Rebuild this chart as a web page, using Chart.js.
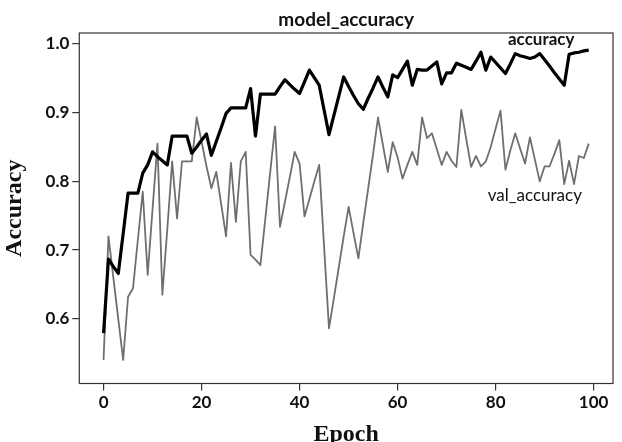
<!DOCTYPE html>
<html>
<head>
<meta charset="utf-8">
<script src="https://cdn.jsdelivr.net/npm/chart.js@4.4.0/dist/chart.umd.min.js"></script>
<style>
  html, body { margin: 0; padding: 0; background: #fff; }
</style>
</head>
<body>
<canvas id="chart" width="622" height="442"></canvas>
<script>
// training history (epochs 0..99)
const accuracy = [
  0.579, 0.687, 0.676, 0.666, 0.724, 0.783, 0.783, 0.783, 0.812, 0.824,
  0.843, 0.836, 0.830, 0.824, 0.866, 0.866, 0.866, 0.866, 0.841, 0.850,
  0.860, 0.869, 0.838, 0.858, 0.878, 0.899, 0.907, 0.907, 0.907, 0.907,
  0.935, 0.866, 0.927, 0.927, 0.927, 0.927, 0.938, 0.948, 0.941, 0.934,
  0.928, 0.945, 0.962, 0.951, 0.940, 0.904, 0.868, 0.896, 0.924, 0.952,
  0.938, 0.925, 0.913, 0.905, 0.921, 0.936, 0.952, 0.937, 0.923, 0.955,
  0.951, 0.963, 0.975, 0.940, 0.963, 0.962, 0.962, 0.968, 0.974, 0.942,
  0.958, 0.958, 0.972, 0.969, 0.966, 0.963, 0.975, 0.988, 0.962, 0.981,
  0.973, 0.965, 0.957, 0.971, 0.986, 0.983, 0.981, 0.979, 0.981, 0.986,
  0.977, 0.968, 0.958, 0.949, 0.940, 0.985, 0.987, 0.988, 0.990, 0.991
];
const valAccuracy = [
  0.540, 0.720, 0.660, 0.600, 0.540, 0.632, 0.644, 0.715, 0.785, 0.664,
  0.760, 0.855, 0.635, 0.730, 0.829, 0.746, 0.829, 0.829, 0.829, 0.893,
  0.858, 0.822, 0.790, 0.814, 0.767, 0.720, 0.827, 0.741, 0.829, 0.843,
  0.693, 0.686, 0.678, 0.745, 0.813, 0.880, 0.734, 0.770, 0.806, 0.843,
  0.826, 0.749, 0.774, 0.800, 0.824, 0.705, 0.586, 0.630, 0.675, 0.720,
  0.763, 0.725, 0.688, 0.740, 0.790, 0.840, 0.893, 0.853, 0.814, 0.857,
  0.835, 0.804, 0.824, 0.843, 0.824, 0.893, 0.863, 0.870, 0.847, 0.824,
  0.843, 0.830, 0.821, 0.904, 0.862, 0.821, 0.837, 0.822, 0.829, 0.850,
  0.877, 0.903, 0.817, 0.845, 0.870, 0.848, 0.826, 0.864, 0.832, 0.800,
  0.822, 0.822, 0.840, 0.860, 0.796, 0.830, 0.796, 0.837, 0.834, 0.855
];
const epochs = accuracy.map((_, i) => i);
const xTicks = [0, 20, 40, 60, 80, 100];
const yTicks = [0.6, 0.7, 0.8, 0.9, 1.0];

// where the inline series names sit, in data units
const seriesTags = [
  {text: 'accuracy', x: 89.3, y: 0.9985, font: 'bold 17px Lato'},
  {text: 'val_accuracy', x: 88.0, y: 0.7715, font: '17px Lato'}
];

const frameAndText = {
  id: 'frameAndText',
  afterDraw(chart) {
    const {ctx, chartArea: a, scales} = chart;
    ctx.save();
    ctx.strokeStyle = '#333';
    ctx.lineWidth = 1.2;
    ctx.strokeRect(a.left, a.top, a.right - a.left, a.bottom - a.top);

    ctx.fillStyle = '#111';
    ctx.textAlign = 'center';
    ctx.textBaseline = 'alphabetic';
    ctx.font = 'bold 19px Lato';
    ctx.fillText('model_accuracy', (a.left + a.right) / 2, 26);

    seriesTags.forEach(t => {
      ctx.font = t.font;
      ctx.fillText(t.text, scales.x.getPixelForValue(t.x), scales.y.getPixelForValue(t.y));
    });
    ctx.restore();
  }
};

const tickFont = {family: 'Lato', size: 17, weight: 'bold'};
const axisTitleFont = {family: 'Liberation Serif', size: 24, weight: 'bold', lineHeight: 1};

new Chart(document.getElementById('chart'), {
  type: 'line',
  data: {
    labels: epochs,
    datasets: [
      {
        label: 'accuracy',
        data: accuracy,
        borderColor: '#000',
        borderWidth: 3.2,
        borderJoinStyle: 'round',
        pointRadius: 0,
        tension: 0
      },
      {
        label: 'val_accuracy',
        data: valAccuracy,
        borderColor: '#6f6f6f',
        borderWidth: 1.8,
        borderJoinStyle: 'round',
        pointRadius: 0,
        tension: 0
      }
    ]
  },
  options: {
    responsive: false,
    animation: false,
    layout: {padding: {top: 33, right: 9, left: 0, bottom: 0}},
    plugins: {
      legend: {display: false},
      tooltip: {enabled: false}
    },
    scales: {
      x: {
        type: 'linear',
        min: -4.95,
        max: 103.95,
        afterBuildTicks: s => { s.ticks = xTicks.map(v => ({value: v})); },
        afterFit: s => { s.height = 58.5; },
        border: {display: false},
        grid: {drawOnChartArea: false, drawTicks: true, tickLength: 7, color: '#333', lineWidth: 1.2},
        ticks: {font: tickFont, color: '#111', padding: 2, maxRotation: 0, callback: v => v},
        title: {
          display: true,
          text: 'Epoch',
          font: axisTitleFont,
          color: '#111',
          padding: {top: 0, bottom: -5}
        }
      },
      y: {
        min: 0.5058,
        max: 1.016,
        afterBuildTicks: s => { s.ticks = yTicks.map(v => ({value: v})); },
        afterFit: s => { s.width = 79.3; },
        border: {display: false},
        grid: {drawOnChartArea: false, drawTicks: true, tickLength: 7, color: '#333', lineWidth: 1.2},
        ticks: {font: tickFont, color: '#111', padding: 3, callback: v => v.toFixed(1)},
        title: {
          display: true,
          text: 'Accuracy',
          font: axisTitleFont,
          color: '#111',
          padding: {top: 3, bottom: 0}
        }
      }
    }
  },
  plugins: [frameAndText]
});
</script>
</body>
</html>
